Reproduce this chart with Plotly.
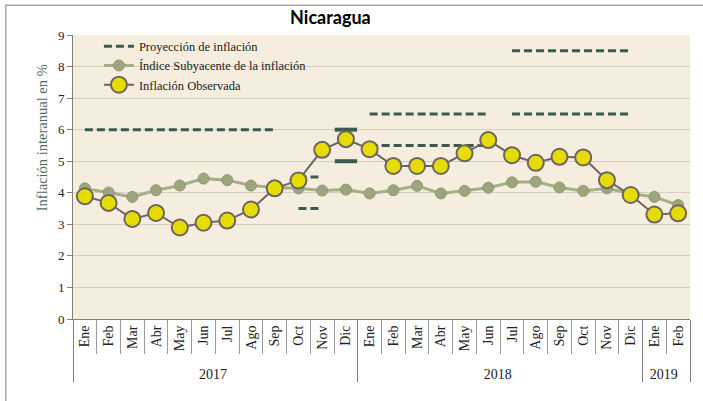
import plotly.graph_objects as go

# Categorias del eje X (mes y año)
meses = ["Ene", "Feb", "Mar", "Abr", "May", "Jun", "Jul", "Ago", "Sep", "Oct", "Nov", "Dic",
         "Ene", "Feb", "Mar", "Abr", "May", "Jun", "Jul", "Ago", "Sep", "Oct", "Nov", "Dic",
         "Ene", "Feb"]
anios = ["2017", "2017", "2017", "2017", "2017", "2017", "2017", "2017", "2017", "2017", "2017", "2017",
         "2018", "2018", "2018", "2018", "2018", "2018", "2018", "2018", "2018", "2018", "2018", "2018",
         "2019", "2019"]

# Inflacion interanual en %
subyacente = [4.14, 4.01, 3.87, 4.08, 4.23, 4.45, 4.40, 4.23, 4.17, 4.14, 4.07, 4.10,
              3.98, 4.08, 4.22, 3.98, 4.06, 4.16, 4.33, 4.35, 4.17, 4.06, 4.14, 3.98,
              3.87, 3.61]
observada = [3.89, 3.68, 3.17, 3.36, 2.90, 3.05, 3.12, 3.47, 4.14, 4.39, 5.36, 5.70,
             5.38, 4.85, 4.85, 4.85, 5.25, 5.67, 5.19, 4.95, 5.14, 5.12, 4.40, 3.93,
             3.31, 3.35]

# Proyecciones: tramo (indice inicial, indice final) y valores proyectados
tramo_inicio = [0, 9, 11, 12, 18]
tramo_fin = [8, 10, 11, 17, 23]
tramo_valores = [[6.0], [4.5, 3.5], [6.0, 5.0], [6.5, 5.5], [8.5, 6.5]]

c_proy = "#3D5A4E"
c_sub_line = "#A5AE86"
c_sub_mark = "#9CA57C"
c_obs_line = "#6E6461"
c_amarillo = "#E6DC00"
serif = "Liberation Serif"

fig = go.Figure()

primero = True
for ini, fin, valores in zip(tramo_inicio, tramo_fin, tramo_valores):
    xs = [anios[ini:fin + 1], meses[ini:fin + 1]]
    for v in valores:
        n = fin - ini + 1
        if n == 1:
            fig.add_trace(go.Scatter(
                x=xs, y=[v] * n, mode="markers",
                marker=dict(symbol="line-ew", size=16,
                            line=dict(color=c_proy, width=4)),
                name="Proyección de inflación", legendgroup="proy",
                showlegend=False, hoverinfo="skip"))
        else:
            fig.add_trace(go.Scatter(
                x=xs, y=[v] * n, mode="lines",
                line=dict(color=c_proy, width=3, dash="8px,4px"),
                name="Proyección de inflación", legendgroup="proy",
                showlegend=primero))
            primero = False

fig.add_trace(go.Scatter(
    x=[anios, meses], y=subyacente, mode="lines+markers",
    name="Índice Subyacente de la inflación",
    line=dict(color=c_sub_line, width=3),
    marker=dict(size=11, color=c_sub_mark, line=dict(color="#8E9871", width=1))))

fig.add_trace(go.Scatter(
    x=[anios, meses], y=observada, mode="lines+markers",
    name="Inflación Observada",
    line=dict(color=c_obs_line, width=2),
    marker=dict(size=16, color=c_amarillo, line=dict(color=c_obs_line, width=2))))

fig.update_layout(
    width=703, height=401,
    margin=dict(l=73, r=13, t=35, b=82),
    paper_bgcolor="white",
    plot_bgcolor="#F5EEDF",
    title=dict(text="<b>Nicaragua</b>", x=0.47, xanchor="center",
               y=0.955, yanchor="middle",
               font=dict(family="Lato", size=18, color="black")),
    font=dict(family=serif, size=13, color="#222222"),
    legend=dict(x=0.042, y=1.012, xanchor="left", yanchor="top",
                bgcolor="rgba(0,0,0,0)", font=dict(family=serif, size=12.5, color="#222222"),
                tracegroupgap=0, itemwidth=30),
    showlegend=True,
)

fig.update_yaxes(
    range=[0, 9], dtick=1, showgrid=True, gridcolor="#D6CCC1", gridwidth=1,
    zeroline=False, showline=True, linecolor="#7F7F7F", linewidth=1,
    ticks="outside", ticklen=5, tickcolor="#7F7F7F", automargin=False,
    tickfont=dict(family=serif, size=13, color="#222222"))

fig.update_xaxes(
    type="multicategory", range=[-0.5, len(meses) - 0.5], autorange=False,
    showgrid=False, showline=True, automargin=False,
    linecolor="#7F7F7F", linewidth=1,
    ticks="outside", tickson="boundaries", ticklen=34, tickcolor="#9A9A9A",
    tickangle=-90,
    tickfont=dict(family=serif, size=14, color="#222222"),
    showdividers=True, dividercolor="#7F7F7F", dividerwidth=1)

# titulo del eje Y
fig.add_annotation(text="Inflación interanual en %", textangle=-90,
                   xref="paper", yref="paper", x=-0.05, y=0.637,
                   xanchor="center", yanchor="middle", showarrow=False,
                   font=dict(family=serif, size=14.5, color="#4F6B5E"))

# marco exterior del grafico
fig.add_shape(type="rect", xref="paper", yref="paper",
              x0=-0.109, x1=1.05, y0=-0.5, y1=1.105,
              line=dict(color="#A6A6A6", width=1.5), layer="above")

fig.write_html("out.html", config={"displayModeBar": False},
               post_script="document.body.style.margin='0';")
